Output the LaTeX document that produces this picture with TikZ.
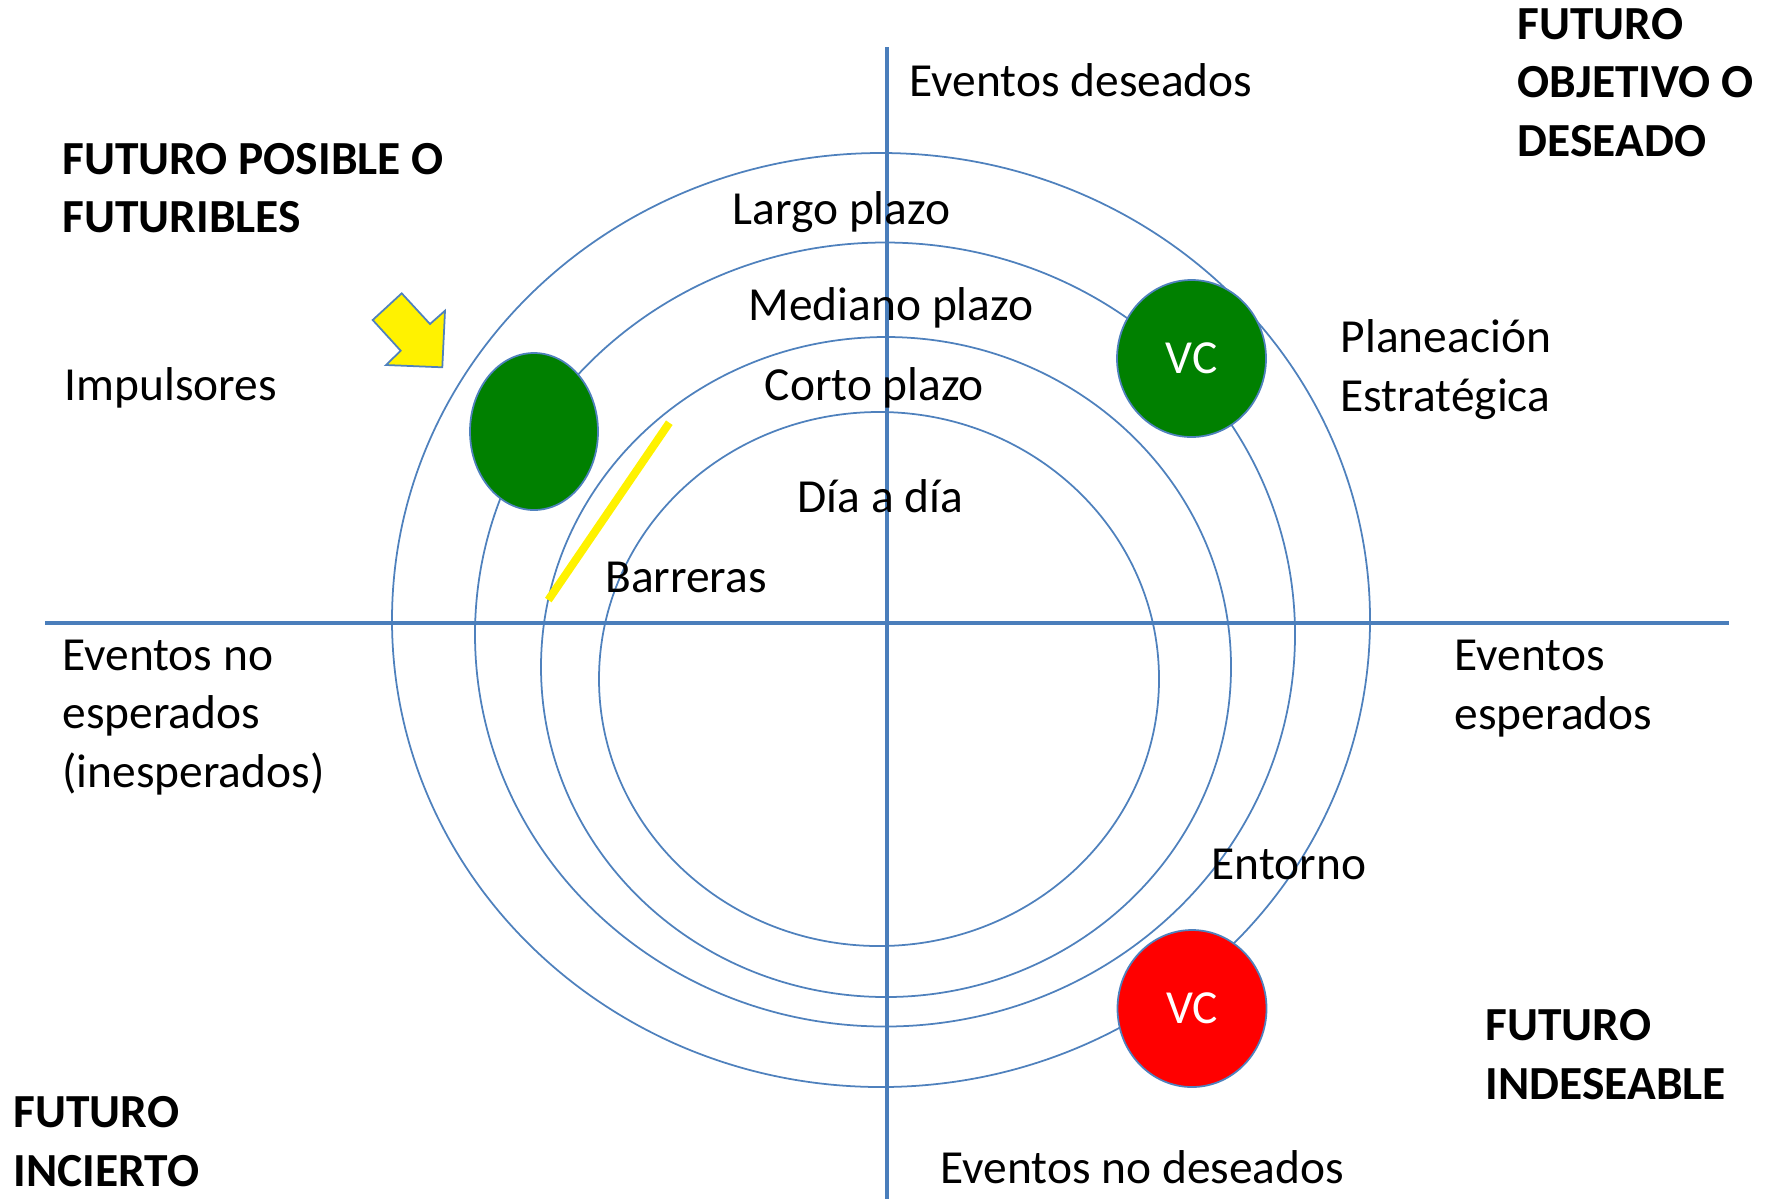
\documentclass[tikz,border=0pt]{standalone}
\usepackage{fontspec}
\setmainfont{Carlito}
\usetikzlibrary{shapes.geometric}
\definecolor{axisblue}{RGB}{74,126,187}
\definecolor{ringblue}{RGB}{79,129,189}
\definecolor{vcgreen}{RGB}{0,128,0}
\begin{document}
\begin{tikzpicture}[x=0.1mm,y=-0.1mm,
txt/.style = {anchor=base west, inner sep=0pt, align=left, font=\fontsize{13.5}{16.6}\selectfont},
head/.style = {txt, font=\fontsize{13.5}{16.6}\selectfont\bfseries},
ring/.style = {draw=ringblue, line width=0.5pt},
axis/.style = {draw=axisblue, line width=1.3pt},
vc/.style = {draw=ringblue, ellipse, line width=0.5pt, minimum width=14.9mm, minimum height=15.7mm, text=white, font=\fontsize{13.5}{16.6}\selectfont}]
\useasboundingbox (0,0) rectangle (1772,1199);

% rings
\draw[ring] (881,620) ellipse [x radius=489, y radius=467];
\draw[ring] (885,634.5) ellipse [x radius=410, y radius=392];
\draw[ring] (886,667) ellipse [x radius=345, y radius=330];
\draw[ring] (879,679) ellipse [x radius=280, y radius=267];

% axes
\coordinate (top) at (887,47);
\coordinate (bottom) at (887,1199);
\coordinate (left) at (45,623);
\coordinate (right) at (1729,623);
\draw[axis] (top) -- (bottom);
\draw[axis] (left) -- (right);

% circles
\node[vc, fill=vcgreen, minimum width=12.8mm] (imp) at (534,431.5) {};
\node[vc, fill=vcgreen] (vcup) at (1191.5,358.5) {VC};
\node[vc, fill=red] (vcdown) at (1192,1008.5) {VC};

% arrow and barrier
\draw[draw=ringblue, line width=0.5pt, fill=yellow] (372.7,320) -- (401.7,293.3) -- (430,324) -- (445,310.7) -- (442.3,367.3) -- (386,365) -- (400.7,350.7) -- cycle;
\coordinate (b1) at (669.3,422.7);
\coordinate (b2) at (548.3,600);
\draw[yellow, line width=0.8mm] (b1) -- (b2);

% labels (multi-line ones sit on their last baseline)
\node[txt] (deseados) at (909,96.7) {Eventos deseados};
\node[head] (objetivo) at (1517,156) {FUTURO\\OBJETIVO O\\DESEADO};
\node[head] (posible) at (61.7,232.5) {FUTURO POSIBLE O\\FUTURIBLES};
\node[txt] (largo) at (732,224) {Largo plazo};
\node[txt] (mediano) at (748,320) {Mediano plazo};
\node[txt] (corto) at (764,400) {Corto plazo};
\node[txt] (impulsores) at (64,400) {Impulsores};
\node[txt] (planeacion) at (1340,411) {Planeación\\Estratégica};
\node[txt] (dia) at (797,512) {Día a día};
\node[txt] (barreras) at (604.6,592.5) {Barreras};
\node[txt] (noesperados) at (61.7,787) {Eventos no\\esperados\\(inesperados)};
\node[txt] (esperados) at (1454,729) {Eventos\\esperados};
\node[txt] (entorno) at (1211,879.5) {Entorno};
\node[head] (indeseable) at (1485,1099) {FUTURO\\INDESEABLE};
\node[head] (incierto) at (13,1186) {FUTURO\\INCIERTO};
\node[txt] (nodeseados) at (940,1183.5) {Eventos no deseados};
\end{tikzpicture}
\end{document}
